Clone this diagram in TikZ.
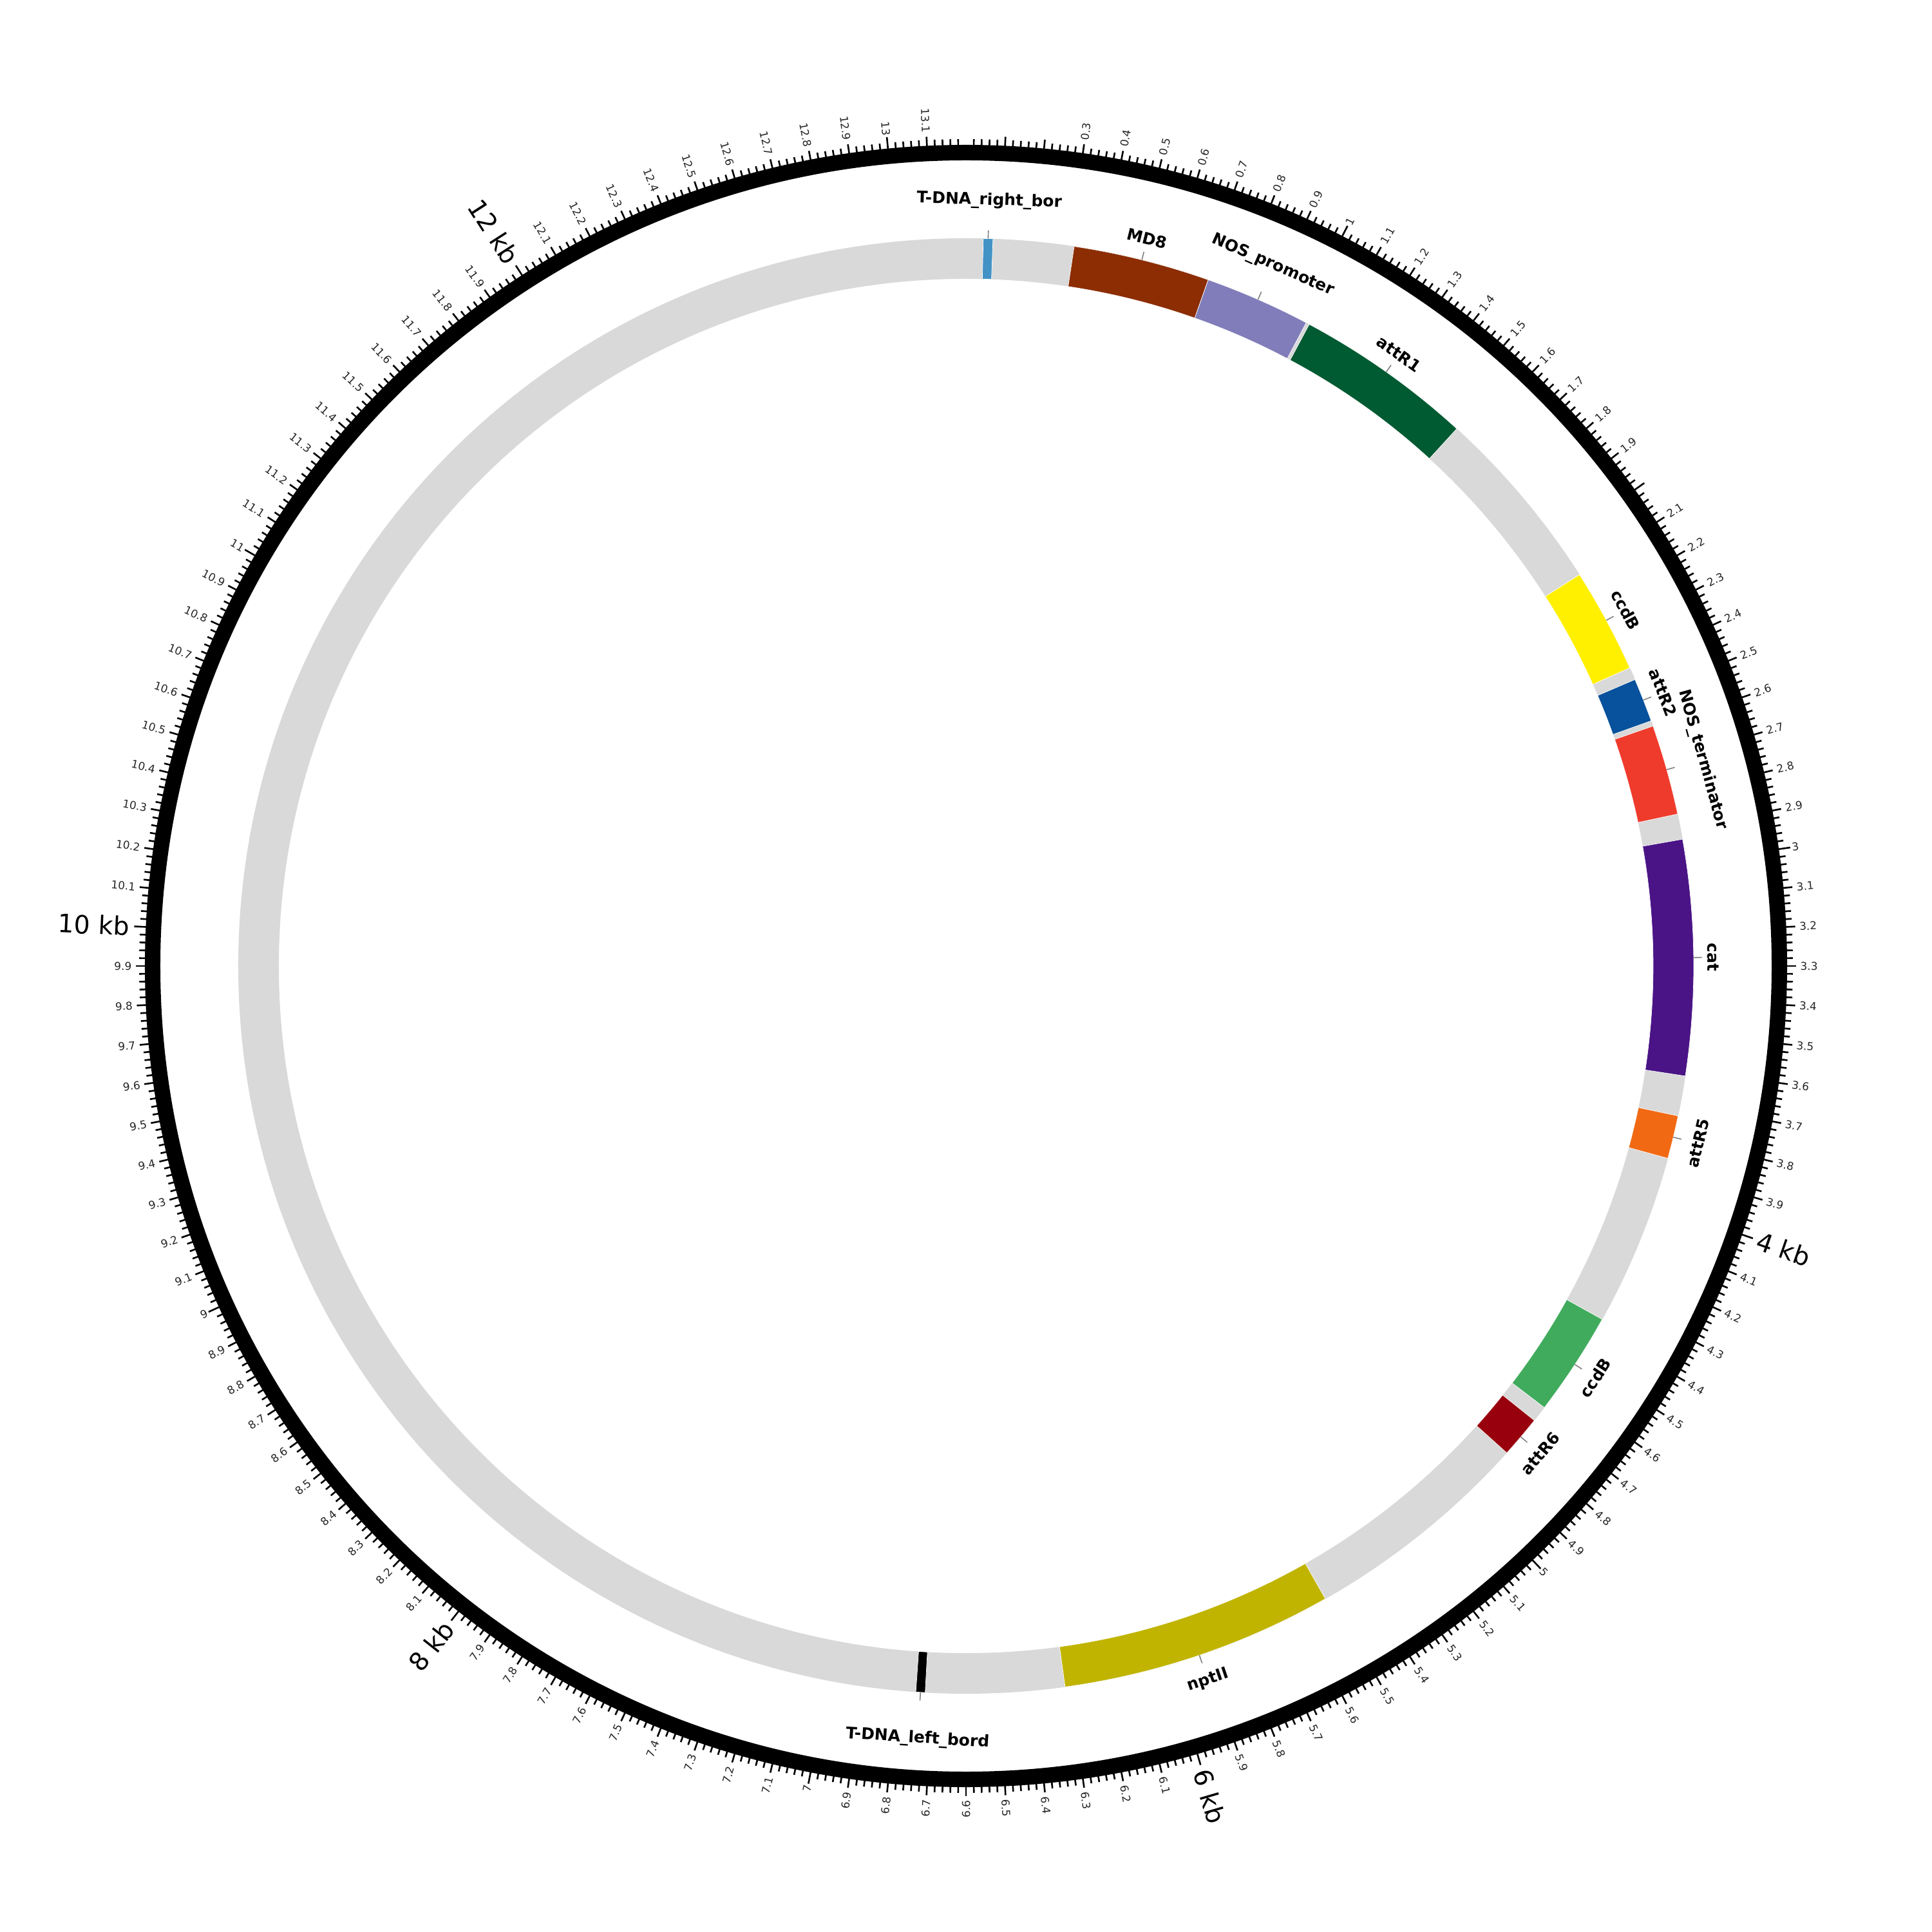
\documentclass[tikz,border=0pt]{standalone}
\usepackage{fontspec}
\setmainfont{DejaVu Sans}
\usetikzlibrary{calc}

\definecolor{trackgray}{RGB}{217,217,217}
\definecolor{rbor}{RGB}{66,146,198}
\definecolor{mdeight}{RGB}{140,45,4}
\definecolor{nosprom}{RGB}{128,125,186}
\definecolor{attrone}{RGB}{0,90,50}
\definecolor{ccdbone}{RGB}{255,240,0}
\definecolor{attrtwo}{RGB}{8,81,156}
\definecolor{nosterm}{RGB}{239,59,44}
\definecolor{catc}{RGB}{74,20,134}
\definecolor{attrfive}{RGB}{241,105,19}
\definecolor{ccdbtwo}{RGB}{65,171,93}
\definecolor{attrsix}{RGB}{153,0,13}
\definecolor{nptii}{RGB}{192,180,0}
\definecolor{lbor}{RGB}{0,0,0}

\begin{document}
\begin{tikzpicture}[
    ringtick/.style ={line width=0.75pt, black},
    ticklab/.style  ={font=\fontsize{4.8pt}{5pt}\selectfont, inner sep=0pt, text=black!85},
    kblab/.style    ={font=\fontsize{11.2pt}{12pt}\selectfont, inner sep=0pt},
    featlab/.style  ={font=\bfseries\fontsize{7.1pt}{8pt}\selectfont, inner sep=0pt},
    leader/.style   ={draw=gray, line width=0.45pt},
    ]
    \useasboundingbox (-15,-15) rectangle (15,15);

    % --- Backbone track ---
    \fill[trackgray, even odd rule] (0,0) circle (11.30) (0,0) circle (10.67);

    % --- Features (start kb / end kb / colour) ---
    \foreach \s/\e/\c in {0.050/0.078/rbor, 0.3135/0.713/mdeight, 0.713/1.022/nosprom,
        1.032/1.555/attrone, 2.107/2.413/ccdbone, 2.450/2.578/attrtwo,
        2.594/2.858/nosterm, 2.932/3.619/catc, 3.736/3.862/attrfive,
        4.365/4.670/ccdbtwo, 4.717/4.840/attrsix, 5.515/6.313/nptii, 6.718/6.745/lbor}{
        \pgfmathsetmacro{\as}{90-\s*360/13.2}
        \pgfmathsetmacro{\ae}{90-\e*360/13.2}
        \fill[\c, draw=white, line width=0.2pt]
            (\as:10.67) arc[start angle=\as, end angle=\ae, radius=10.67cm]
            -- (\ae:11.30) arc[start angle=\ae, end angle=\as, radius=11.30cm] -- cycle;
    }

    % --- Feature labels (mid kb / radius / text) ---
    \foreach \m/\R/\t [count=\k] in {0.064/11.89/T-DNA\_right\_bor, 0.513/11.64/MD8,
        0.8675/11.88/NOS\_promoter, 1.2935/11.64/attR1, 2.260/11.64/ccdB,
        2.514/11.63/attR2, 2.726/11.88/NOS\_terminator, 3.2755/11.60/cat,
        3.799/11.70/attR5, 4.5175/11.68/ccdB, 4.7785/11.70/attR6,
        5.914/11.71/nptII, 6.7315/12.02/T-DNA\_left\_bord}{
        \pgfmathsetmacro{\th}{\m*360/13.2}
        \pgfmathsetmacro{\rot}{\th<90 ? -\th : 180-\th}
        \coordinate (tip\k) at ({90-\th}:11.30);
        \coordinate (end\k) at ({90-\th}:11.43);
        \draw[leader] (tip\k) -- (end\k);
        \node[featlab, rotate=\rot] (feat\k) at ({90-\th}:\R) {\t};
    }

    % --- Outer ring and ticks ---
    \draw[line width=0.24cm] (0,0) circle (12.63);
    \foreach \i in {1,...,659}{
        \pgfmathsetmacro{\a}{90-\i*7.2/13.2}
        \pgfmathsetmacro{\l}{mod(\i,50)==0 ? 12.93 : (mod(\i,5)==0 ? 12.89 : 12.84)}
        \draw[ringtick] (\a:12.70) -- (\a:\l);
    }

    % --- Tick labels ---
    \foreach \j in {3,...,131}{
        \pgfmathtruncatemacro{\dp}{mod(\j,10)}
        \pgfmathtruncatemacro{\ip}{(\j-\dp)/10}
        \pgfmathtruncatemacro{\kind}{\j==20 ? 0 : (mod(\j,20)==0 ? 2 : 1)}
        \pgfmathsetmacro{\th}{\j*36/13.2}
        \ifnum\j<66
            \def\anc{west}\pgfmathsetmacro{\rot}{90-\th}
        \else
            \def\anc{east}\pgfmathsetmacro{\rot}{270-\th}
        \fi
        \ifnum\dp=0 \edef\lab{\ip}\else\edef\lab{\ip.\dp}\fi
        \ifcase\kind
        \or
            \node[ticklab, rotate=\rot, anchor=\anc] (tl\j) at ({90-\th}:12.95) {\lab};
        \or
            \node[kblab, rotate=\rot, anchor=\anc] (kb\j) at ({90-\th}:13.00) {\ip\ kb};
        \fi
    }

\end{tikzpicture}
\end{document}
